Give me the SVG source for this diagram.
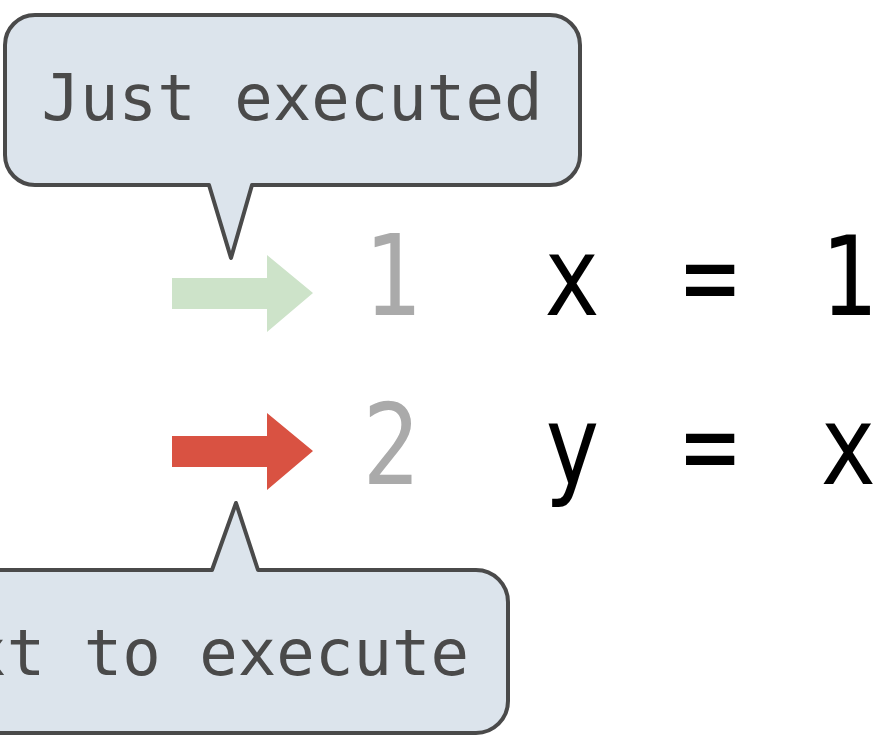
<svg xmlns="http://www.w3.org/2000/svg" width="886" height="738" viewBox="0 0 886 738">
  <style>
    .bubble { fill: #dce4ec; stroke: #4a4a4a; stroke-width: 4; stroke-linejoin: round; }
    .note { font-family: "DejaVu Sans Mono", "Liberation Mono", monospace; font-size: 64px; fill: #4a4a4a; }
    .lineno { font-family: "DejaVu Sans Mono", "Liberation Mono", monospace; font-size: 112px; fill: #aaaaaa; }
    .code { font-family: "DejaVu Sans Mono", "Liberation Mono", monospace; font-size: 110px; fill: #000000; }
  </style>
  <defs>
    <path id="arrow-shape" d="M172,278 H267 V255 L313,293 L267,332 V309 H172 Z"/>
  </defs>

  <!-- program lines (glyphs narrowed to 85% width about the first column) -->
  <g id="line1">
    <text class="lineno" x="392" y="315" text-anchor="middle" transform="translate(392,0) scale(0.85,1) translate(-392,0)">1</text>
    <text class="code" x="538.9 620.1 701.3 782.5 863.7" y="315" transform="translate(572,0) scale(0.85,1) translate(-572,0)">x = 1</text>
  </g>
  <g id="line2">
    <text class="lineno" x="391" y="484" text-anchor="middle" transform="translate(391,0) scale(0.85,1) translate(-391,0)">2</text>
    <text class="code" x="538.9 620.1 701.3 782.5 863.7" y="484" transform="translate(572,0) scale(0.85,1) translate(-572,0)">y = x</text>
  </g>

  <!-- execution pointers -->
  <g id="pointers">
    <use href="#arrow-shape" fill="#cde3c9"/>
    <use href="#arrow-shape" fill="#d95242" transform="translate(0,158)"/>
  </g>

  <!-- callout: last executed line -->
  <g id="just-executed">
    <path class="bubble" d="M35,15 H550 A30,30 0 0 1 580,45 V155 A30,30 0 0 1 550,185 H252 L231,258 L209,185 H35 A30,30 0 0 1 5,155 V45 A30,30 0 0 1 35,15 Z"/>
    <text class="note" x="292" y="120" text-anchor="middle">Just executed</text>
  </g>

  <!-- callout: next line to run -->
  <g id="next-to-execute">
    <path class="bubble" d="M-28,570 H212 L236,503 L258,570 H476 A32,32 0 0 1 508,602 V701 A32,32 0 0 1 476,733 H-28 A32,32 0 0 1 -60,701 V602 A32,32 0 0 1 -28,570 Z"/>
    <text class="note" x="469" y="675" text-anchor="end">Next to execute</text>
  </g>
</svg>
